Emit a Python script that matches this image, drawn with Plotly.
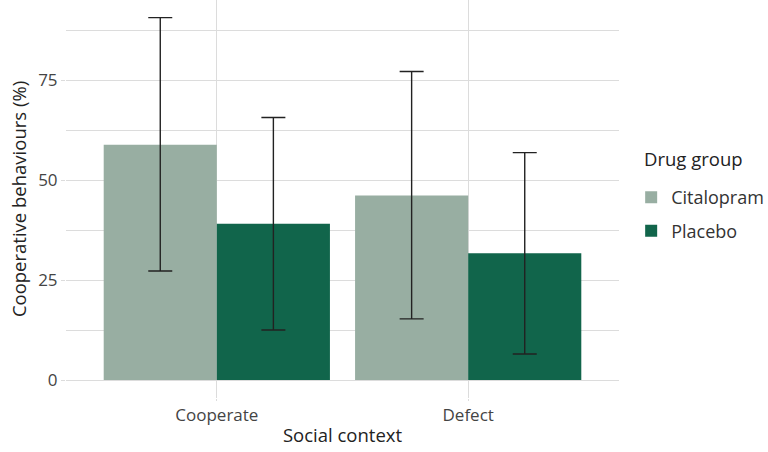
import plotly.graph_objects as go

contexts = ["Cooperate", "Defect"]
groups = ["Citalopram", "Placebo"]
means = {"Citalopram": [58.9, 46.2], "Placebo": [39.1, 31.7]}
upper = {"Citalopram": [90.7, 77.2], "Placebo": [65.7, 56.9]}
lower = {"Citalopram": [27.3, 15.3], "Placebo": [12.5, 6.5]}
colors = {"Citalopram": "#98AEA2", "Placebo": "#11654B"}

fig = go.Figure()
for g in groups:
    m = means[g]
    fig.add_trace(go.Bar(
        x=contexts, y=m, name=g, legendgroup=g, marker=dict(color=colors[g], line=dict(width=0)),
        error_y=dict(type="data", symmetric=False,
                     array=[u - v for u, v in zip(upper[g], m)],
                     arrayminus=[v - l for v, l in zip(m, lower[g])],
                     color="#222222", thickness=1.4, width=12),
    ))

font = "Open Sans"
fig.update_layout(
    barmode="group", bargap=0.1, bargroupgap=0,
    width=768, height=452,
    margin=dict(l=66, r=149, t=0, b=54, autoexpand=False),
    plot_bgcolor="white", paper_bgcolor="white",
    font=dict(family=font, color="#333333"),
    legend=dict(font=dict(size=18, color="#333333"),
                x=1.022, xanchor="left", y=0.462, yanchor="middle",
                itemwidth=30, tracegroupgap=7),
    xaxis=dict(range=[-0.6, 1.6], showgrid=True, gridcolor="#dcdcdc", gridwidth=1,
               ticks="outside", ticklen=2, tickcolor="#dcdcdc", automargin=False,
               tickfont=dict(size=17, color="#444444"),
               title=dict(text="Social context", font=dict(size=18.5, color="#222222"), standoff=3),
               showline=False, zeroline=False),
    yaxis=dict(range=[-4.5, 95.1], dtick=25, tick0=0, showgrid=True, gridcolor="#dcdcdc", gridwidth=1,
               minor=dict(dtick=12.5, tick0=0, showgrid=True, gridcolor="#dcdcdc", gridwidth=1),
               ticks="outside", ticklen=4, tickcolor="#dcdcdc", automargin=False,
               tickfont=dict(size=17, color="#444444"),
               title=dict(text="Cooperative behaviours (%)", font=dict(size=18.5, color="#222222"), standoff=6),
               zeroline=False, showline=False),
    annotations=[dict(text="Drug group", xref="paper", yref="paper",
                      x=(642 - 66) / 553, y=1 - 158 / 398, xanchor="left", yanchor="middle",
                      showarrow=False, font=dict(size=18.5, color="#222222"))],
)
fig.write_html("out.html", config={"displayModeBar": False},
               post_script="document.body.style.margin='0';document.body.style.overflow='hidden';")
